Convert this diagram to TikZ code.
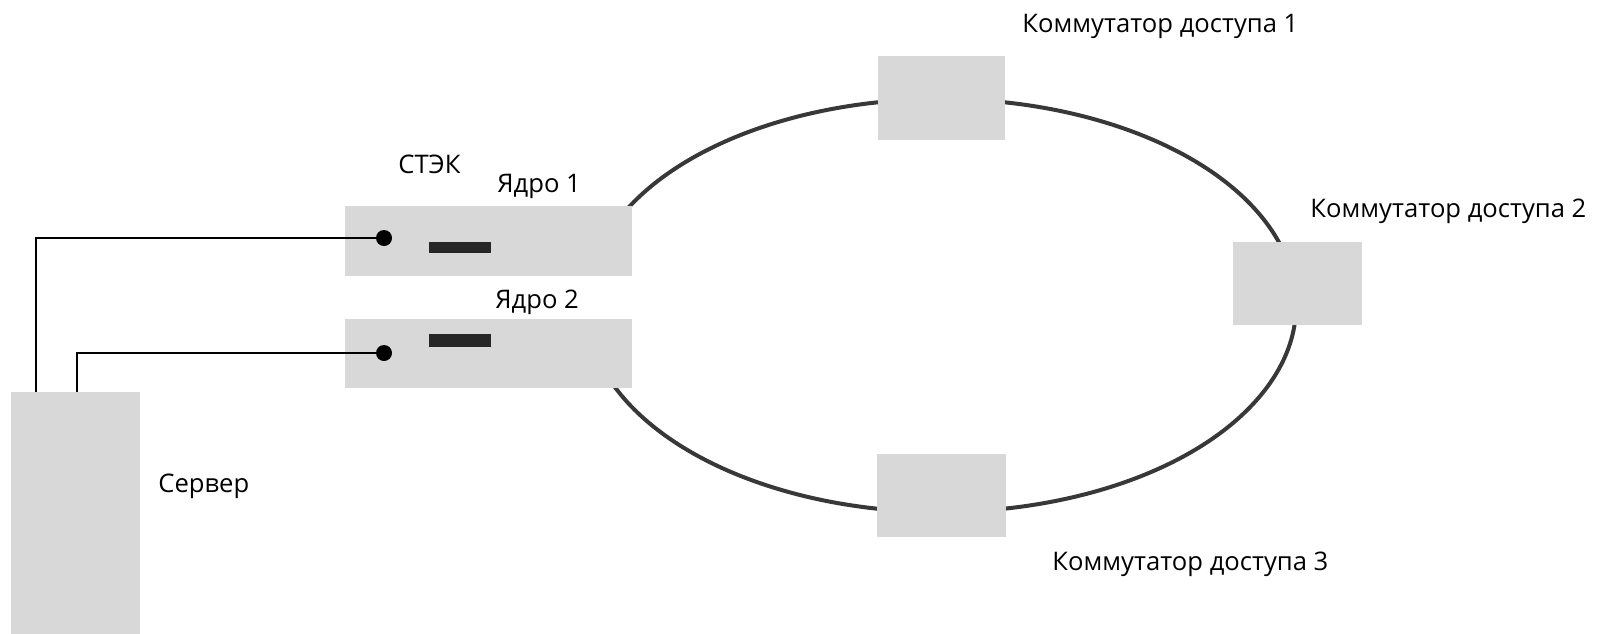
\documentclass[tikz,border=0pt]{standalone}
\usepackage{fontspec}
\setmainfont{Open Sans}
\definecolor{boxgray}{HTML}{D8D8D8}
\definecolor{ringgray}{HTML}{383838}
\definecolor{bargray}{HTML}{262626}

\begin{document}
\begin{tikzpicture}[x=0.5pt,y=-0.5pt,font=\fontsize{12.8}{15}\selectfont,
  blok/.style={fill=boxgray,draw=none,anchor=north west,inner sep=0pt},
  label text/.style={anchor=base west,inner sep=0pt}]
\tikzstyle{wire} = [draw,line width=1pt,black]
\tikzstyle{port} = [circle,fill=black,inner sep=0pt,minimum size=8pt]

\useasboundingbox (0,0) rectangle (1599,633);

% Ring (open on the left, behind the cores)
\coordinate (ringc) at (941,305.5);
\draw[line width=2pt,ringgray] (ringc) ++(152:177.5pt and 103.25pt)
  arc [start angle=152, end angle=-157, x radius=177.5pt, y radius=103.25pt];

\node[blok,minimum width=143.5pt,minimum height=35pt] (core1) at (345,206) {};
\node[blok,minimum width=143.5pt,minimum height=34.5pt] (core2) at (345,319) {};
\node[blok,minimum width=64.5pt,minimum height=121pt] (server) at (11,392) {};
\node[blok,minimum width=63.5pt,minimum height=42pt] (sw1) at (878,56) {};
\node[blok,minimum width=64.5pt,minimum height=41.5pt] (sw2) at (1233,242) {};
\node[blok,minimum width=64.5pt,minimum height=41.5pt] (sw3) at (877,454) {};

\filldraw[draw=none, fill=bargray] (429,242) rectangle (491,253);
\filldraw[draw=none, fill=bargray] (429,334) rectangle (491,347);

\node[port] (p1) at (384,238) {};
\node[port] (p2) at (384,353) {};
\coordinate (srv1) at (36,392);
\coordinate (srv2) at (77,392);
\draw[wire] (p1.center) -| (srv1);
\draw[wire] (p2.center) -| (srv2);

% Labels
\node[label text] (stek) at (398,173) {СТЭК};
\node[label text] (core1lbl) at (497,192) {Ядро 1};
\node[label text] (core2lbl) at (495,308) {Ядро 2};
\node[label text] (srvlbl) at (158,492) {Сервер};
\node[label text] (sw1lbl) at (1022,32) {Коммутатор доступа 1};
\node[label text] (sw2lbl) at (1310,217) {Коммутатор доступа 2};
\node[label text] (sw3lbl) at (1052,570) {Коммутатор доступа 3};
\end{tikzpicture}
\end{document}
